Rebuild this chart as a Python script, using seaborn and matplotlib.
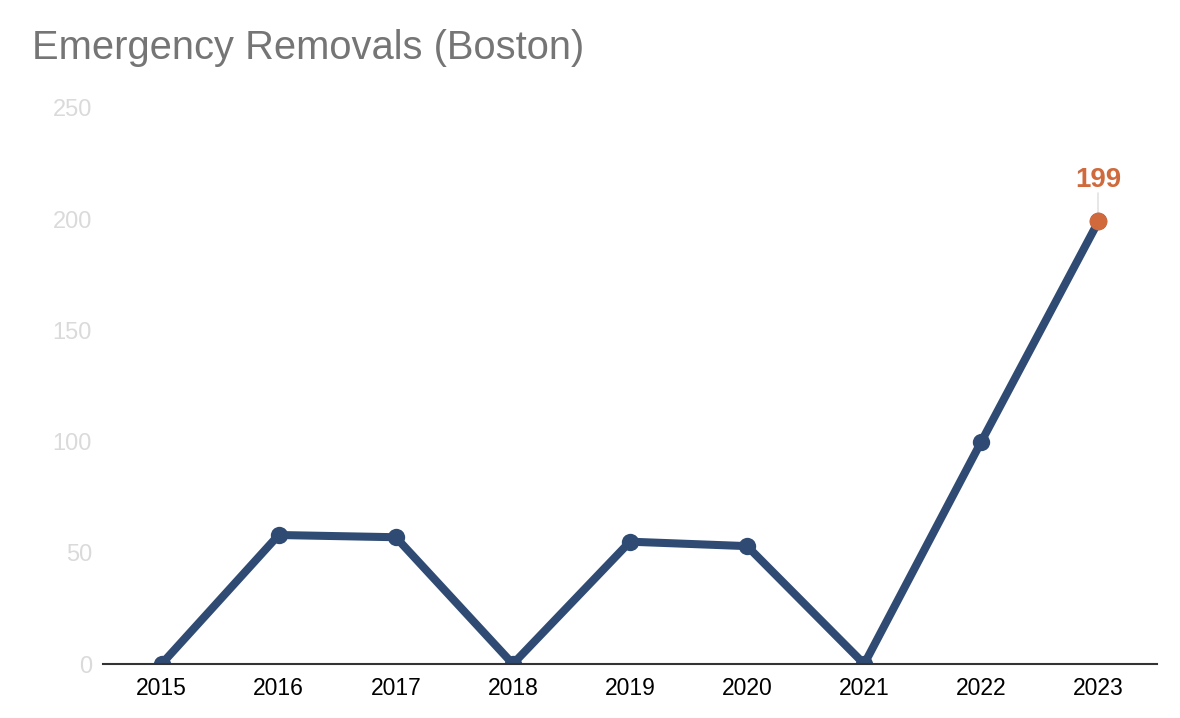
import numpy as np
import pandas as pd
import matplotlib
matplotlib.use("Agg")
import matplotlib.pyplot as plt
import seaborn as sns

years = ["2015", "2016", "2017", "2018", "2019", "2020", "2021", "2022", "2023"]
removals = [0, 58, 57, 0, 55, 53, 0, 100, 199]
y_ticks = [0, 50, 100, 150, 200, 250]

df = pd.DataFrame({"year": years, "removals": removals})

sns.set_style("white")
plt.rcParams["font.family"] = ["Liberation Sans", "DejaVu Sans"]

fig = plt.figure(figsize=(11.8, 7.18), dpi=100)
ax = fig.add_axes([0.0873, 0.0752, 0.8932, 0.7744])

blue = "#2f4b73"
orange = "#d06a3c"

sns.lineplot(data=df, x="year", y="removals", ax=ax, color=blue, linewidth=5.8,
             marker="o", markersize=12.5, markeredgewidth=0, sort=False)

last = df.iloc[[-1]]
sns.scatterplot(data=last, x="year", y="removals", ax=ax, color=orange, s=165,
                linewidth=0, zorder=5)

# label for latest value
lx = len(years) - 1
ly = removals[-1]
ax.plot([lx, lx], [ly + 2, ly + 13], color="#e3e3e3", linewidth=1.2, zorder=1)
ax.text(lx, ly + 15.5, str(ly), ha="center", va="baseline", fontsize=20,
        fontweight="bold", color=orange)

ax.set_xlim(-0.5, len(years) - 0.5)
ax.set_ylim(0, 250)
ax.set_yticks(y_ticks)
ax.set_xlabel("")
ax.set_ylabel("")

for s in ["top", "right", "left"]:
    ax.spines[s].set_visible(False)
ax.spines["bottom"].set_color("#333333")
ax.spines["bottom"].set_linewidth(1.5)

ax.tick_params(axis="y", colors="#dadada", labelsize=17, length=0, pad=8)
ax.tick_params(axis="x", colors="black", labelsize=16.5, length=0, pad=9)
ax.grid(False)

fig.text(32 / 1180, 1 - 48 / 718, "Emergency Removals (Boston)", fontsize=28.7,
         color="#757575", ha="left", va="center")

fig.savefig("out.png", dpi=100)
